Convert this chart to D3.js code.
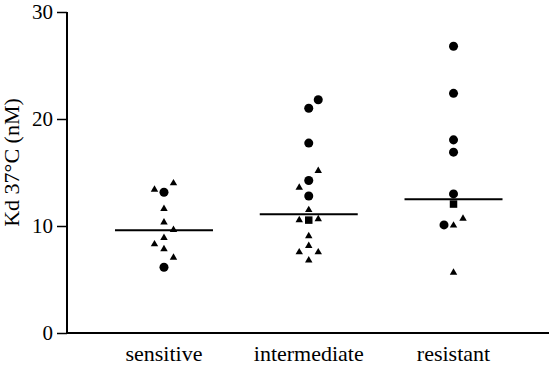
<!DOCTYPE html>
<html>
<head>
<meta charset="utf-8">
<script src="https://cdn.jsdelivr.net/npm/d3@7"></script>
</head>
<body style="margin:0">
<svg id="chart" width="550" height="370" style="font-family: 'Liberation Serif'"></svg>
<script>
// groups on the x axis
const categories = ["sensitive", "intermediate", "resistant"];
const yTicks = [0, 10, 20, 30];

// each point: [Kd value, marker shape, jitter slot]
const sensitivePts = [
    [13.4, "tri", -1], [13.15, "circ", 0], [14.0, "tri", 1], [11.6, "tri", 0],
    [10.35, "tri", 0], [9.65, "tri", 1], [8.9, "tri", 0], [8.3, "tri", -1],
    [7.85, "tri", 0], [7.05, "tri", 1], [6.15, "circ", 0]
];
const intermediatePts = [
    [21.8, "circ", 1], [21.0, "circ", 0], [17.75, "circ", 0], [15.15, "tri", 1],
    [14.25, "circ", 0], [13.6, "tri", -1], [12.8, "circ", 0], [11.5, "tri", 0],
    [10.55, "tri", -1], [10.55, "sq", 0], [10.65, "tri", 1], [9.05, "tri", 0],
    [8.15, "tri", 0], [7.55, "tri", -1], [7.55, "tri", 1], [6.8, "tri", 0]
];
const resistantPts = [
    [26.8, "circ", 0], [22.4, "circ", 0], [18.05, "circ", 0], [16.9, "circ", 0],
    [13.0, "circ", 0], [12.05, "sq", 0], [10.7, "tri", 1], [10.1, "circ", -1],
    [10.05, "tri", 0], [5.65, "tri", 0]
];
const medians = [9.6, 11.1, 12.5];

const width = 550, height = 370;
const margin = { top: 12, right: 0, bottom: 37, left: 67 };
const serif = d => '"Liberation Serif"';

const svg = d3.select("#chart");

const y = d3.scaleLinear().domain([0, 30]).range([height - margin.bottom, margin.top]);
const x = d3.scaleBand().domain(categories).range([91.6, 525.9]).padding(0);
const jitter = d3.scaleLinear().domain([-1, 1]).range([-9.5, 9.5]);

const shapes = {
    circ: d3.symbol().type(d3.symbolCircle).size(64),
    tri: d3.symbol().type(d3.symbolTriangle).size(24),
    sq: d3.symbol().type(d3.symbolSquare).size(56)
};

const groups = [sensitivePts, intermediatePts, resistantPts];
const points = groups.flatMap((pts, i) =>
    pts.map(([value, shape, slot]) => ({ group: categories[i], value, shape, slot })));

// y axis
const yAxis = svg.append("g")
    .attr("transform", `translate(${margin.left},0)`)
    .call(d3.axisLeft(y).tickValues(yTicks).tickSize(10).tickPadding(4))
    .attr("font-family", null)
    .attr("font-size", null);
yAxis.select(".domain").attr("stroke-width", 2).attr("d", `M0,${y(30)}V${y(0)}`);
yAxis.selectAll(".tick line").attr("stroke-width", 1.5);
yAxis.selectAll(".tick text")
    .style("font-family", serif)
    .style("font-size", "21px")
    .attr("fill", "#000");

// x axis line
svg.append("line")
    .attr("x1", margin.left - 1).attr("x2", width - 1)
    .attr("y1", y(0)).attr("y2", y(0))
    .attr("stroke", "#000").attr("stroke-width", 2);

svg.selectAll(".cat-label")
    .data(categories)
    .enter().append("text")
    .attr("class", "cat-label")
    .attr("x", d => x(d) + x.bandwidth() / 2)
    .attr("y", 361)
    .attr("text-anchor", "middle")
    .style("font-family", serif)
    .style("font-size", "22px")
    .text(d => d);

svg.append("text")
    .attr("transform", `translate(19,${(y(30) + y(0)) / 2 - 10}) rotate(-90)`)
    .attr("text-anchor", "middle")
    .style("font-family", serif)
    .style("font-size", "22px")
    .text("Kd 37°C (nM)");

// median lines
svg.selectAll(".median")
    .data(medians)
    .enter().append("line")
    .attr("class", "median")
    .attr("x1", (d, i) => x(categories[i]) + x.bandwidth() / 2 - 49)
    .attr("x2", (d, i) => x(categories[i]) + x.bandwidth() / 2 + 49)
    .attr("y1", d => y(d))
    .attr("y2", d => y(d))
    .attr("stroke", "#000")
    .attr("stroke-width", 2);

// points
svg.selectAll(".pt")
    .data(points)
    .enter().append("path")
    .attr("class", "pt")
    .attr("d", d => shapes[d.shape]())
    .attr("transform", d => `translate(${x(d.group) + x.bandwidth() / 2 + jitter(d.slot)},${y(d.value)})`)
    .attr("fill", "#000");
</script>
</body>
</html>
